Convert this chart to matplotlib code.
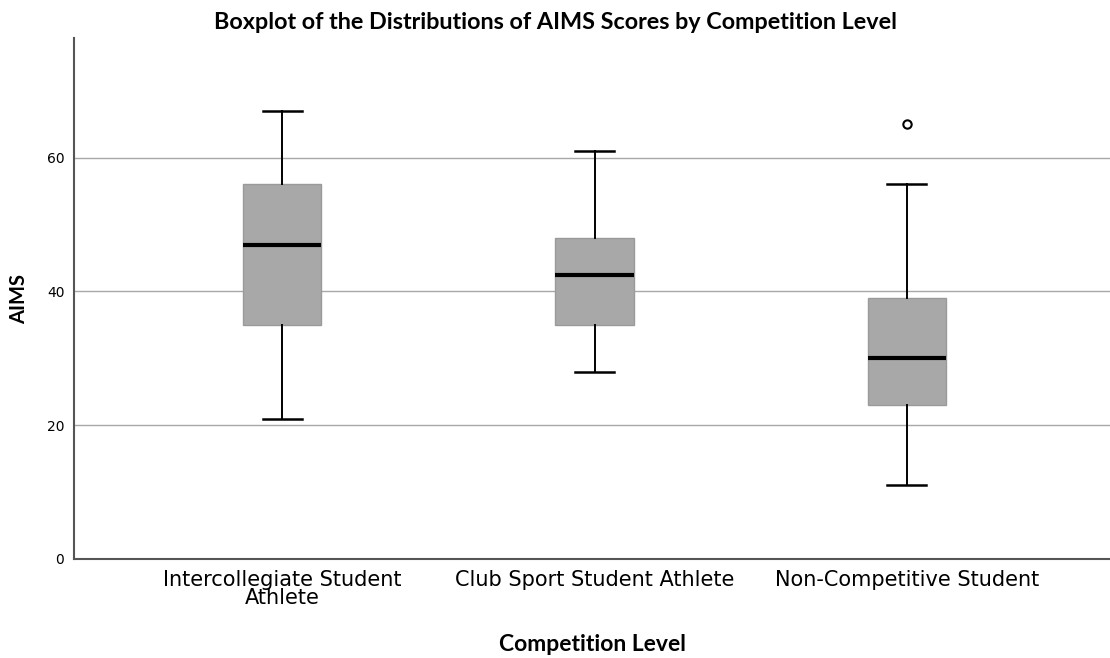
import numpy as np
import matplotlib
matplotlib.use("Agg")
import matplotlib.pyplot as plt

# AIMS score summaries
groups = ["Intercollegiate Student\nAthlete",
          "Club Sport Student Athlete",
          "Non-Competitive Student"]
whis_lo = [21, 28, 11]
q1 = [35, 35, 23]
medians = [47, 42.5, 30]
q3 = [56, 48, 39]
whis_hi = [67, 61, 56]
outliers = [[], [], [65]]

stats = []
for i in range(len(groups)):
    stats.append({
        "whislo": whis_lo[i],
        "q1": q1[i],
        "med": medians[i],
        "q3": q3[i],
        "whishi": whis_hi[i],
        "fliers": outliers[i],
    })

fig = plt.figure(figsize=(11.1, 6.58), dpi=100)
ax = fig.add_axes([0.0667, 0.1505, 0.9333, 0.7917])

ax.bxp(
    stats,
    positions=np.arange(len(groups)),
    widths=0.25,
    patch_artist=True,
    showfliers=True,
    boxprops=dict(facecolor="#a8a8a8", edgecolor="#9a9a9a", linewidth=1),
    medianprops=dict(color="black", linewidth=3),
    whiskerprops=dict(color="black", linewidth=1.4),
    capprops=dict(color="black", linewidth=1.8),
    capwidths=0.125,
    flierprops=dict(marker="o", markerfacecolor="white",
                    markeredgecolor="black", markersize=6, markeredgewidth=1.5),
    zorder=3,
)

ax.set_xlim(-0.666, 2.65)
ax.set_ylim(0, 77.9)
ax.set_yticks([0, 20, 40, 60])
ax.set_xticks(np.arange(len(groups)))
ax.set_xticklabels(groups, fontsize=15, linespacing=0.85)
ax.tick_params(axis="y", labelsize=10, length=0, pad=7)
ax.tick_params(axis="x", length=0, pad=8)

ax.grid(axis="y", color="#a8a8a8", linewidth=1)
ax.set_axisbelow(True)
for s in ["top", "right"]:
    ax.spines[s].set_visible(False)
for s in ["left", "bottom"]:
    ax.spines[s].set_color("#555555")
    ax.spines[s].set_linewidth(1.5)

ax.set_ylabel("AIMS", fontsize=14.5, fontweight="bold", family="Lato", labelpad=13)
ax.set_xlabel("Competition Level", fontsize=16.5, fontweight="bold", family="Lato", labelpad=19)
fig.text(0.5, 0.966, "Boxplot of the Distributions of AIMS Scores by Competition Level",
         ha="center", va="center", fontsize=16.8, fontweight="bold", family="Lato")

fig.savefig("out.png", dpi=100)
